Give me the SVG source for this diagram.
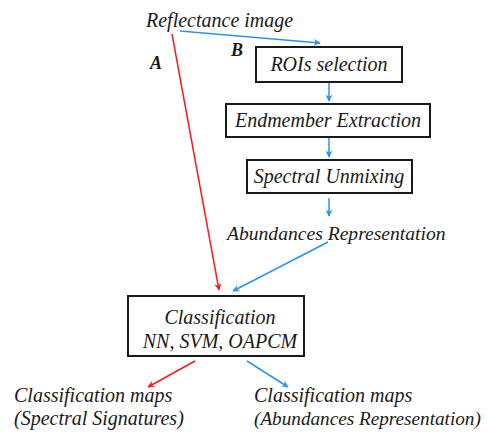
<svg xmlns="http://www.w3.org/2000/svg" width="488" height="432" viewBox="0 0 488 432">
<style>
text{font-family:"Liberation Serif","Times New Roman","DejaVu Serif",serif;font-style:italic;font-size:20px;fill:#1a1a1a}
.box{fill:#fff;stroke:#1a1a1a;stroke-width:2}
.lbl{font-weight:bold;font-size:18px}
.r{stroke:#ff1a1a;stroke-width:1.5;fill:none}
.b{stroke:#2a93f0;stroke-width:1.5;fill:none}
</style>
<defs>
<marker id="ar" viewBox="0 0 10 10" refX="9" refY="5" markerWidth="7" markerHeight="7" orient="auto" markerUnits="userSpaceOnUse"><path d="M0,0 L10,5 L0,10 L3,5 z" fill="#ff1a1a"/></marker>
<marker id="ab" viewBox="0 0 10 10" refX="9" refY="5" markerWidth="7" markerHeight="7" orient="auto" markerUnits="userSpaceOnUse"><path d="M0,0 L10,5 L0,10 L3,5 z" fill="#2a93f0"/></marker>
</defs>
<g id="connectors">
<line class="r" x1="172" y1="34" x2="219" y2="290" marker-end="url(#ar)"/>
<line class="b" x1="180" y1="31" x2="320" y2="43" marker-end="url(#ab)"/>
<line class="b" x1="329" y1="83" x2="329" y2="101" marker-end="url(#ab)"/>
<line class="b" x1="329" y1="138" x2="329" y2="157" marker-end="url(#ab)"/>
<line class="b" x1="329" y1="198" x2="329" y2="216" marker-end="url(#ab)"/>
<line class="b" x1="328" y1="242" x2="233" y2="291" marker-end="url(#ab)"/>
<line class="r" x1="195" y1="361" x2="148" y2="387" marker-end="url(#ar)"/>
<line class="b" x1="247" y1="361" x2="288" y2="387" marker-end="url(#ab)"/>
</g>
<g id="reflectance"><text x="146" y="27">Reflectance image</text></g>
<g id="labelA"><text class="lbl" x="150" y="69">A</text></g>
<g id="labelB"><text class="lbl" x="231" y="56">B</text></g>
<g id="rois"><rect class="box" x="256" y="47" width="146" height="35"/><text x="329" y="71" text-anchor="middle">ROIs selection</text></g>
<g id="endmember"><rect class="box" x="226" y="104" width="204" height="33"/><text x="328" y="127" text-anchor="middle">Endmember Extraction</text></g>
<g id="unmixing"><rect class="box" x="247" y="160" width="165" height="33"/><text x="329" y="183" text-anchor="middle">Spectral Unmixing</text></g>
<g id="abundances"><text x="227" y="240" style="font-size:19.6px">Abundances Representation</text></g>
<g id="classification"><rect class="box" x="128" y="296" width="176" height="60"/><text x="220" y="324" text-anchor="middle">Classification</text><text x="220" y="348" text-anchor="middle">NN, SVM, OAPCM</text></g>
<g id="mapsA"><text x="14" y="402">Classification maps</text><text x="14" y="425">(Spectral Signatures)</text></g>
<g id="mapsB"><text x="254" y="402">Classification maps</text><text x="254" y="425" style="font-size:19.2px">(Abundances Representation)</text></g>
</svg>
